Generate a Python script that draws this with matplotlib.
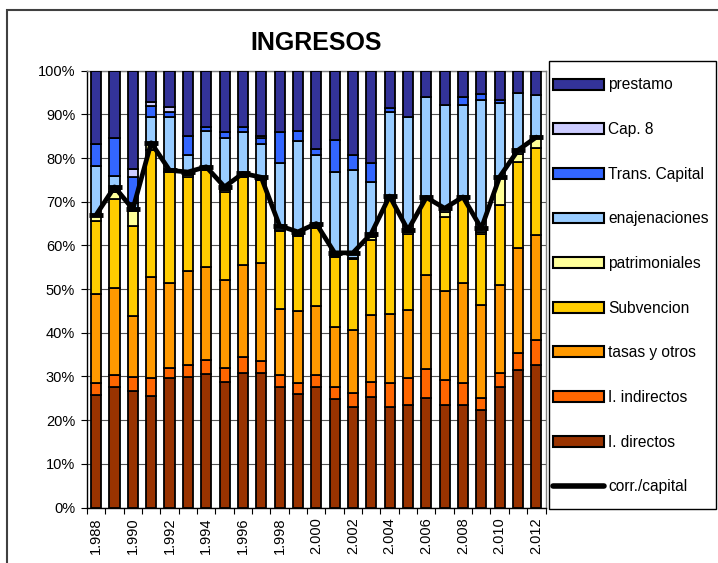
import matplotlib
matplotlib.use("Agg")
import matplotlib.pyplot as plt
from matplotlib.patches import Patch, Rectangle
from matplotlib.lines import Line2D
import numpy as np

plt.rcParams['font.family'] = ['Liberation Sans', 'DejaVu Sans']

years = [1988, 1989, 1990, 1991, 1992, 1993, 1994, 1995, 1996, 1997, 1998, 1999,
         2000, 2001, 2002, 2003, 2004, 2005, 2006, 2007, 2008, 2009, 2010, 2011, 2012]
year_labels = ["1.988", "1.990", "1.992", "1.994", "1.996", "1.998", "2.000",
               "2.002", "2.004", "2.006", "2.008", "2.010", "2.012"]

i_directos = [25.7, 27.6, 26.7, 25.5, 29.6, 29.9, 30.5, 28.8, 30.9, 30.7, 27.5, 26.0,
              27.5, 24.8, 23.1, 25.4, 22.9, 23.5, 25.1, 23.5, 23.5, 22.3, 27.6, 31.5, 32.6]
i_indirectos = [2.7, 2.7, 3.2, 4.2, 2.4, 2.7, 3.2, 3.2, 3.6, 2.9, 2.8, 2.4,
                2.8, 2.7, 3.0, 3.4, 5.5, 6.1, 6.6, 5.8, 4.9, 2.8, 3.1, 3.8, 5.7]
tasas = [20.5, 19.9, 13.9, 23.0, 19.3, 21.6, 21.4, 20.1, 21.0, 22.4, 15.1, 16.6,
         15.8, 13.9, 14.5, 15.3, 16.0, 15.6, 21.5, 20.3, 23.0, 21.2, 20.2, 24.0, 24.1]
subvencion = [16.7, 20.4, 20.7, 29.1, 25.4, 21.4, 22.1, 20.2, 20.2, 18.9, 17.9, 17.2,
              18.0, 16.0, 16.3, 17.1, 26.4, 17.5, 17.6, 16.9, 19.7, 16.4, 18.3, 19.8, 20.0]
patrimoniales = [1.3, 1.7, 3.3, 1.7, 0.2, 0.6, 0.2, 0.3, 0.2, 0.2, 0.3, 0.2,
                 0.2, 0.2, 0.2, 0.8, 0.2, 0.3, 0.2, 1.2, 0.2, 0.3, 6.5, 1.9, 2.1]
enajenaciones = [11.2, 3.6, 1.8, 5.9, 12.5, 4.5, 8.8, 11.9, 10.1, 8.2, 15.3, 21.5,
                 16.5, 19.1, 20.1, 12.6, 19.6, 26.4, 23.0, 24.4, 20.8, 30.2, 16.8, 13.8, 9.9]
trans_capital = [5.1, 8.6, 6.1, 2.5, 1.2, 4.3, 0.9, 1.5, 1.1, 1.2, 7.1, 2.3,
                 1.2, 7.4, 3.5, 4.2, 0.8, 0.0, 0.0, 0.0, 1.8, 1.4, 0.7, 0.0, 0.0]
cap8 = [0.0, 0.0, 1.8, 1.0, 1.1, 0.0, 0.0, 0.0, 0.0, 0.5, 0.0, 0.0,
        0.0, 0.0, 0.0, 0.0, 0.0, 0.0, 0.0, 0.0, 0.0, 0.0, 0.0, 0.0, 0.0]
prestamo = [16.8, 15.5, 22.5, 7.1, 8.3, 15.0, 12.9, 14.0, 12.9, 15.0, 14.0, 13.8,
            18.0, 15.9, 19.3, 21.2, 8.6, 10.6, 6.0, 7.9, 6.1, 5.4, 6.8, 5.2, 5.6]
corr_capital = [67.0, 73.4, 68.3, 83.5, 77.2, 76.8, 78.0, 73.4, 76.5, 75.6, 64.5, 63.1,
                65.0, 58.3, 58.3, 62.7, 71.3, 63.5, 71.0, 68.5, 71.1, 63.9, 75.7, 81.8, 84.8]

series = [
    ("I. directos", i_directos, "#993300"),
    ("I. indirectos", i_indirectos, "#FF6600"),
    ("tasas y otros", tasas, "#FF9900"),
    ("Subvencion", subvencion, "#FFCC00"),
    ("patrimoniales", patrimoniales, "#FFFF99"),
    ("enajenaciones", enajenaciones, "#99CCFF"),
    ("Trans. Capital", trans_capital, "#3366FF"),
    ("Cap. 8", cap8, "#CCCCFF"),
    ("prestamo", prestamo, "#333399"),
]

fig = plt.figure(figsize=(7.18, 5.63), dpi=100)
W, H = 718, 563
ax = fig.add_axes([87 / W, 1 - 507.5 / H, (545.5 - 87) / W, (507.5 - 70.7) / H])

x = np.arange(len(years))
total = np.sum([np.array(v, dtype=float) for _, v, _ in series], axis=0)
bottom = np.zeros(len(years))
for name, vals, col in series:
    share = np.array(vals, dtype=float) / total * 100
    ax.bar(x, share, width=0.55, bottom=bottom, color=col, edgecolor='black',
           linewidth=1.3, zorder=3)
    bottom += share

ax.plot(x, corr_capital, color='black', lw=3.4, marker='_', ms=10, mew=3.5,
        zorder=5, solid_joinstyle='round', solid_capstyle='round')

ax.set_xlim(-0.5, len(years) - 0.5)
ax.set_ylim(0, 100)
yt = np.arange(0, 101, 10)
ax.set_yticks(yt, labels=[f"{v}%" for v in yt])
ax.yaxis.grid(True, color='#555555', lw=0.8, zorder=0)
ax.set_axisbelow(True)
ax.tick_params(axis='y', length=4, pad=4.5, labelsize=10.5, direction='out')

ax.set_xticks(np.arange(-0.5, len(years), 1), labels=[])
ax.set_xticks(x[::2], labels=year_labels, minor=True)
ax.tick_params(axis='x', which='major', length=4, direction='out')
ax.tick_params(axis='x', which='minor', length=0, pad=7, labelsize=10.5, labelrotation=90)

for s in ['left', 'bottom']:
    ax.spines[s].set_color('black')
    ax.spines[s].set_linewidth(1.0)
for s in ['top', 'right']:
    ax.spines[s].set_color('#808080')
    ax.spines[s].set_linewidth(1.0)

fig.text(316 / W, 1 - 43 / H, "INGRESOS", ha='center', va='center',
         fontsize=18, fontweight='bold')

# legend
handles = [Patch(facecolor=c, edgecolor='black', linewidth=1.5) for _, _, c in reversed(series)]
labels = [n for n, _, _ in reversed(series)]
handles.append(Line2D([0], [0], color='black', lw=4, solid_capstyle='round'))
labels.append("corr./capital")
fig.legend(handles, labels, loc='upper left', bbox_to_anchor=(553 / W, 1 - 77.5 / H),
           frameon=False, fontsize=11.2, handlelength=3.3, handleheight=0.7,
           labelspacing=1.905, borderpad=0, handletextpad=0.25, borderaxespad=0)
fig.patches.append(Rectangle((549 / W, 1 - 509 / H), (716 - 549) / W, (509 - 61) / H,
                             transform=fig.transFigure, fill=False, edgecolor='black',
                             lw=1.0))
# chart area border
fig.patches.append(Rectangle((7 / W, -0.05), 1.0, 1 - 10 / H + 0.05,
                             transform=fig.transFigure, fill=False, edgecolor='#404040',
                             lw=1.5))

fig.savefig("out.png", dpi=100)
